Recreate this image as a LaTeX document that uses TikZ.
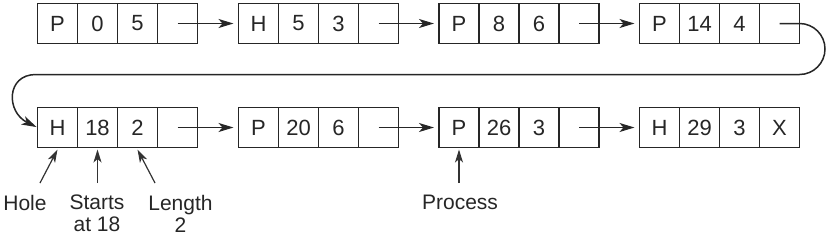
\documentclass[tikz,border=0pt]{standalone}
\usepackage{fontspec}
\setmainfont{Liberation Sans}
\usetikzlibrary{arrows.meta}
\tikzset{
 cell/.style={draw=black!85, line width=1.6pt, minimum width=40pt, minimum height=40pt, inner sep=0pt, outer sep=0pt, font=\fontsize{22}{23}\selectfont, text=black!85},
 link/.style={draw=black!85, line width=1.5pt, -{Stealth[length=15pt,width=9pt,inset=4pt]}, shorten >=5pt},
 lbl/.style={font=\fontsize{21}{22}\selectfont, align=center, inner sep=0pt, anchor=north, text=black!85},
 pointer/.style={draw=black!80, line width=1.2pt, -{Stealth[length=13pt,width=8pt,inset=3.5pt]}}
}
\newcommand{\record}[7]{%
 \node[cell] (#1a) at ({#2+20},#3) {#4};
 \node[cell] (#1b) at ({#2+60},#3) {#5};
 \node[cell] (#1c) at ({#2+100},#3) {#6};
 \node[cell] (#1d) at ({#2+140},#3) {#7};
}
\begin{document}
\begin{tikzpicture}[x=1pt,y=-1pt]
\useasboundingbox (0,0) rectangle (830,236);
\record{n1}{37.5}{23.5}{P}{0}{5}{}
\record{n2}{238.5}{23.5}{H}{5}{3}{}
\record{n3}{439}{23.5}{P}{8}{6}{}
\record{n4}{639.5}{23.5}{P}{14}{4}{}
\record{n5}{37.5}{127.5}{H}{18}{2}{}
\record{n6}{238.5}{127.5}{P}{20}{6}{}
\record{n7}{439}{127.5}{P}{26}{3}{}
\record{n8}{639.5}{127.5}{H}{29}{3}{X}
\draw[link] (n1d.center) -- (n2a.west);
\draw[link] (n2d.center) -- (n3a.west);
\draw[link] (n3d.center) -- (n4a.west);
\coordinate (turn) at (36,74.5);
\draw[link, shorten >=1pt] (n4d.center) -- (n4d.east) arc[start angle=-90, end angle=90, radius=25.5] -- (turn) .. controls (6,74.5) and (6,112) .. (n5a.west);
\draw[link] (n5d.center) -- (n6a.west);
\draw[link] (n6d.center) -- (n7a.west);
\draw[link] (n7d.center) -- (n8a.west);
\node[lbl] (hole) at (25,195) {Hole};
\node[lbl] (starts) at (97,195) {Starts\\at 18};
\node[lbl] (length) at (180.5,195) {Length\\2};
\node[lbl] (process) at (460,195) {Process};
\coordinate (holetail) at (40,183);
\coordinate (startstail) at (97.5,183);
\coordinate (lengthtail) at (155,183);
\coordinate (processtail) at (459,183);
\draw[pointer] (holetail) -- ([yshift=-2pt]n5a.south);
\draw[pointer] (startstail) -- ([yshift=-2pt]n5b.south);
\draw[pointer] (lengthtail) -- ([yshift=-2pt]n5c.south);
\draw[pointer] (processtail) -- ([yshift=-2pt]n7a.south);
\end{tikzpicture}
\end{document}
